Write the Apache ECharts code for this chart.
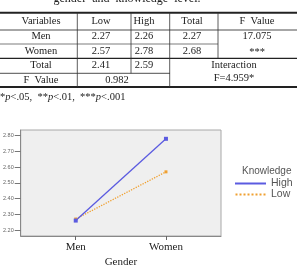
<!DOCTYPE html>
<html>
<head>
<meta charset="utf-8">
<script src="https://cdn.jsdelivr.net/npm/echarts@6.0.0/dist/echarts.min.js"></script>
<style>
html, body { margin: 0; padding: 0; background: #fff; }
#main { width: 297px; height: 269px; }
</style>
</head>
<body>
<div id="main"></div>
<script>
// data
var genders = ['Men', 'Women'];
var highMeans = [2.26, 2.78];
var lowMeans = [2.27, 2.57];
var yTicks = [2.2, 2.3, 2.4, 2.5, 2.6, 2.7, 2.8];

var tableHeader = ['Variables', 'Low', 'High', 'Total', 'F  Value'];
var menRow = ['Men', '2.27', '2.26', '2.27'];
var womenRow = ['Women', '2.57', '2.78', '2.68'];
var totalRow = ['Total', '2.41', '2.59'];
var fRow = ['F  Value', '0.982'];
var genderF = ['17.075', '***'];
var interaction = ['Interaction', 'F=4.959*'];

var serif = '"Liberation Serif", "DejaVu Serif", serif';
var sans = '"Liberation Sans", Arial, sans-serif';

// table layout
var colX = [41, 101, 144, 192];
var rowY = [21.7, 36.5, 51, 65.5, 80];

var g = [];
function txt(s, x, y, size) {
    g.push({
        type: 'text', x: x, y: y,
        style: {
            text: s, font: (size || 10.5) + 'px ' + serif, fill: '#222',
            textAlign: 'center', textVerticalAlign: 'middle'
        }
    });
}
function hline(x1, x2, y, w) {
    g.push({ type: 'line', shape: { x1: x1, y1: y, x2: x2, y2: y }, style: { stroke: '#222', lineWidth: w || 0.8 } });
}
function vline(x, y1, y2) {
    g.push({ type: 'line', shape: { x1: x, y1: y1, x2: x, y2: y2 }, style: { stroke: '#333', lineWidth: 0.8 } });
}

// caption (cut at the top)
g.push({
    type: 'text', x: 127, y: 4.5,
    style: { text: 'gender  and  knowledge  level.', font: '12px ' + serif, fill: '#222', textAlign: 'center', textVerticalAlign: 'bottom' }
});

hline(0, 297, 12.7, 2);
hline(0, 297, 30, 0.8);
hline(0, 218, 44, 0.6);
hline(0, 297, 58.3, 1.3);
hline(0, 170, 73.3, 0.8);
hline(0, 297, 87, 2);
vline(77.3, 12.7, 87);
vline(131, 12.7, 73.3);
vline(169.7, 12.7, 87);
vline(218, 12.7, 58.3);

tableHeader.slice(0, 4).forEach(function (s, i) { txt(s, colX[i], rowY[0]); });
txt(tableHeader[4], 257, rowY[0]);
menRow.forEach(function (s, i) { txt(s, colX[i], rowY[1]); });
womenRow.forEach(function (s, i) { txt(s, colX[i], rowY[2]); });
totalRow.forEach(function (s, i) { txt(s, colX[i], rowY[3]); });
txt(fRow[0], colX[0], rowY[4]);
txt(fRow[1], 117, rowY[4]);
txt(genderF[0], 257, rowY[1]);
txt(genderF[1], 257, rowY[2] + 1);
txt(interaction[0], 234, rowY[3]);
txt(interaction[1], 234, 78.5);

// footnote
g.push({
    type: 'text', x: 0, y: 97,
    style: {
        text: '*{i|p}<.05,  **{i|p}<.01,  ***{i|p}<.001',
        font: '10.5px ' + serif, fill: '#222', textVerticalAlign: 'middle',
        rich: { i: { fontStyle: 'italic', fontFamily: serif, fontSize: 10.5, fill: '#222' } }
    }
});

var dotted = 'path://';
for (var k = 0; k < 31; k += 4) dotted += 'M' + k + ',0h2v2h-2z';

var option = {
    animation: false,
    title: {
        text: 'Knowledge',
        left: 242, top: 166, padding: 0,
        textStyle: { fontFamily: sans, fontSize: 10, fontWeight: 'normal', color: '#555' }
    },
    legend: {
        orient: 'vertical',
        left: 235, top: 178, padding: 0,
        itemWidth: 31, itemHeight: 2, itemGap: 0,
        selectedMode: false,
        textStyle: { fontFamily: sans, fontSize: 10.5, lineHeight: 11, color: '#555' },
        data: [
            { name: 'High', icon: 'rect' },
            { name: 'Low', icon: dotted }
        ]
    },
    grid: {
        left: 19, right: 76, top: 130, bottom: 32,
        show: true, backgroundColor: '#efefef', borderColor: '#a8a8a8', borderWidth: 1
    },
    xAxis: {
        type: 'value',
        min: -0.61, max: 1.61,
        name: 'Gender', nameLocation: 'middle', nameGap: 21,
        nameTextStyle: { fontFamily: serif, fontSize: 11, color: '#222' },
        splitLine: { show: false },
        axisLine: { onZero: false, lineStyle: { color: '#888' } },
        axisTick: { customValues: [0, 1], length: 4, lineStyle: { color: '#666' } },
        axisLabel: {
            customValues: [0, 1], margin: 6,
            fontFamily: serif, fontSize: 11, color: '#222',
            formatter: function (v) { return genders[Math.round(v)]; }
        }
    },
    yAxis: {
        type: 'value',
        min: 2.162, max: 2.836,
        splitLine: { show: false },
        axisLine: { show: true, onZero: false, lineStyle: { color: '#888' } },
        axisTick: { show: true, customValues: yTicks, length: 6, lineStyle: { color: '#777' } },
        axisLabel: {
            customValues: yTicks, margin: 7,
            fontFamily: sans, fontSize: 5.5, color: '#666',
            formatter: function (v) { return v.toFixed(2); }
        }
    },
    series: [
        {
            name: 'Low',
            type: 'line',
            symbol: 'rect', symbolSize: 3,
            itemStyle: { color: '#f0a030' },
            lineStyle: { type: 'dotted', width: 1.3 },
            data: lowMeans.map(function (v, i) { return [i, v]; })
        },
        {
            name: 'High',
            type: 'line',
            symbol: 'rect', symbolSize: 4,
            itemStyle: { color: '#5b5be0' },
            lineStyle: { width: 1.3 },
            data: highMeans.map(function (v, i) { return [i, v]; })
        }
    ],
    graphic: g
};

var chart = echarts.init(document.getElementById('main'));
chart.setOption(option);
</script>
</body>
</html>
